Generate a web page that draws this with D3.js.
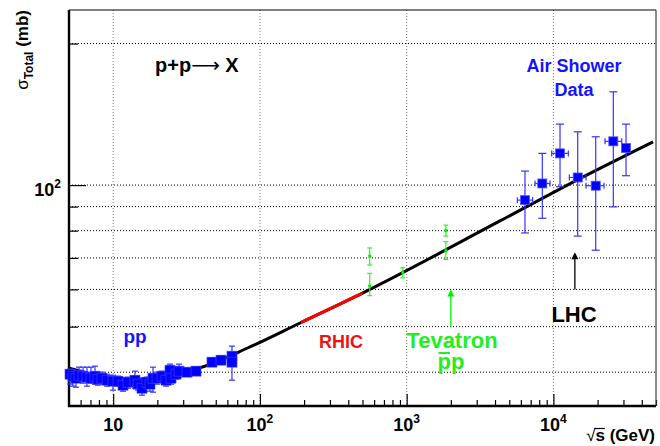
<!DOCTYPE html>
<meta charset="UTF-8">
<script src="https://cdn.jsdelivr.net/npm/d3@7/dist/d3.min.js"></script>

<svg id="chart" width="660" height="446"></svg>

<style>
 body { margin:0; background:#fff; }
 #chart { font-family:"Liberation Sans", Arial, sans-serif; font-weight:bold; }
 .hgrid line { stroke:#000; stroke-width:1; stroke-dasharray:1,2; }
 .vgrid line { stroke:#777; stroke-width:1; stroke-dasharray:1,2; }
 .axis .domain { display:none; }
 .axis line { stroke:#000; stroke-width:1.2; }
 .axis text { display:none; }
 #fit { fill:none; stroke:#000; stroke-width:3; }
 #rhic { fill:none; stroke:#f00; stroke-width:3; }
</style>

<script>
 // low energy pp data (sqrt(s) in GeV, sigma in mb)
 var ppEnergy = [5.08,5.32,5.58,5.85,6.23,6.63,7.06,7.52,7.88,8.39,9.08,9.97,10.79,11.67,12.62,14.08,14.77,
                 15.72,17.01,17.82,18.68,19.89,21.51,22.91,24.39,24.78,26.8,28.09,31.85,36.68,47.13,54.3,64.5,64.5];
 var ppSigma  = [39.62,39.23,38.85,39.42,39.23,39.04,38.85,39.23,38.66,38.85,38.47,38.28,38.28,37.54,38.10,38.47,37.73,
                 36.99,38.10,37.73,38.85,38.85,39.23,38.47,40.40,38.85,39.62,40.21,40.01,40.21,42.02,42.43,43.27,42.02];
 var ppHigh   = [40.6,40.4,40.21,41.0,41.0,41.0,41.0,41.2,39.81,40.01,39.62,39.42,39.23,38.85,39.04,40.21,38.85,
                 38.10,39.04,38.85,41.0,40.01,40.21,39.62,41.61,40.01,40.6,41.61,40.8,41.0,42.85,43.27,44.1,45.45];
 var ppLow    = [37.73,37.36,37.17,38.1,37.91,37.36,37.91,37.73,37.54,37.73,37.36,36.63,37.36,36.45,36.99,36.99,36.63,
                 35.75,36.99,36.45,36.28,37.73,38.1,37.36,39.23,37.73,38.66,39.04,39.23,39.42,41.2,41.61,42.4,38.47];

 // p-pbar collider points (SppS, Tevatron)
 var ppbarEnergy = [560, 560, 940, 1850, 1850];
 var ppbarSigma  = [70.6, 61.0, 65.1, 80.0, 72.5];
 var ppbarHigh   = [73.5, 64.9, 66.7, 82.2, 75.8];
 var ppbarLow    = [67.6, 58.2, 63.5, 77.9, 69.5];

 // air shower data
 var airEnergy     = [6400, 8400, 11090, 14640, 19420, 25590, 31230];
 var airEnergyLow  = [5675, 7490, 9730, 12830, 16680, 22470, 31230];
 var airEnergyHigh = [7210, 9478, 12630, 16680, 22120, 29200, 31230];
 var airSigma      = [92.9, 100.8, 116.8, 103.8, 99.7, 123.9, 119.9];
 var airHigh       = [107.1, 116.8, 134.8, 129.8, 126.7, 157.9, 134.8];
 var airLow        = [79.1, 85.0, 99.2, 77.9, 72.7, 89.9, 104.7];

 // fit curve
 var fitEnergy = [5, 5.67, 8.13, 12.6, 20.85, 39.06, 81.7, 187.6, 504, 4325, 14030, 47760];
 var fitSigma  = [40.8, 40.4, 39.2, 38.5, 39.2, 40.9, 44.98, 50.9, 59.0, 83.9, 102, 123.6];
 var rhicRange = [190, 500];

 // arrows: Tevatron, LHC
 var arrowEnergy = [2000, 14000];
 var arrowFrom   = [50, 60];
 var arrowTo     = [60, 72];

 // axes
 var xMajor = [10, 100, 1000, 10000];
 var xLabels = [["10",""], ["10","2"], ["10","3"], ["10","4"]];
 var yMajor = [100];
 var yMinor = [40, 50, 60, 70, 80, 90, 200];

 var mLeft = 69, mRight = 656, mTop = 10, mBottom = 406;
 var x = d3.scaleLog().domain([5, 50000]).range([mLeft, mRight]);
 var y = d3.scaleLog().domain([33.9, 235.7]).range([mBottom, mTop]);

 var svg = d3.select("#chart");

 // grid
 svg.append("g").attr("class","hgrid").selectAll("line")
    .data(yMinor.concat(yMajor)).enter().append("line")
    .attr("x1",mLeft).attr("x2",mRight)
    .attr("y1",function(d){return y(d);}).attr("y2",function(d){return y(d);});
 svg.append("g").attr("class","vgrid").selectAll("line")
    .data(xMajor).enter().append("line")
    .attr("y1",mTop).attr("y2",mBottom)
    .attr("x1",function(d){return x(d);}).attr("x2",function(d){return x(d);});

 // axes ticks
 var xMinor = x.ticks().filter(function(d){ return xMajor.indexOf(d) < 0 && d > 5; });
 svg.append("g").attr("class","axis").attr("transform","translate(0,"+mBottom+")")
    .call(d3.axisTop(x).tickValues(xMinor).tickSize(6).tickSizeOuter(0));
 svg.append("g").attr("class","axis").attr("transform","translate(0,"+mBottom+")")
    .call(d3.axisTop(x).tickValues(xMajor).tickSize(12).tickSizeOuter(0));
 svg.append("g").attr("class","axis").attr("transform","translate("+mLeft+",0)")
    .call(d3.axisRight(y).tickValues(yMinor).tickSize(9).tickSizeOuter(0));
 svg.append("g").attr("class","axis").attr("transform","translate("+mLeft+",0)")
    .call(d3.axisRight(y).tickValues(yMajor).tickSize(17).tickSizeOuter(0));

 // frame
 svg.append("line").attr("x1",mLeft).attr("x2",mRight).attr("y1",mTop).attr("y2",mTop)
    .attr("stroke","#000").attr("stroke-width",1);
 svg.append("line").attr("x1",mRight).attr("x2",mRight).attr("y1",mTop).attr("y2",mBottom)
    .attr("stroke","#4a3a3a").attr("stroke-width",1.2);
 svg.append("line").attr("x1",mLeft).attr("x2",mLeft).attr("y1",mTop).attr("y2",mBottom+1)
    .attr("stroke","#000").attr("stroke-width",2.4);
 svg.append("line").attr("x1",mLeft-1).attr("x2",mRight).attr("y1",mBottom).attr("y2",mBottom)
    .attr("stroke","#000").attr("stroke-width",2.4);

 // draws a bar over the first character of a text element
 function overbar(textSel, color, gap) {
     var b = textSel.node().getExtentOfChar(0);
     svg.append("line").attr("x1",b.x+1).attr("x2",b.x+b.width-1)
        .attr("y1",b.y+gap).attr("y2",b.y+gap)
        .attr("stroke",color).attr("stroke-width",2);
 }

 // x labels
 var xl = svg.append("g").selectAll("text").data(xMajor).enter().append("text")
    .attr("x",function(d){return x(d);}).attr("y",430.5)
    .attr("text-anchor","middle").style("font-size","18px");
 xl.append("tspan").text(function(d,i){return xLabels[i][0];});
 xl.append("tspan").attr("dy",-8).style("font-size","12px").text(function(d,i){return xLabels[i][1];});

 // y label
 var yl = svg.append("text").attr("x",61).attr("y",y(100)+11)
    .attr("text-anchor","end").style("font-size","18px");
 yl.append("tspan").text("10");
 yl.append("tspan").attr("dy",-8).style("font-size","12px").text("2");

 // axis titles
 var xt = svg.append("text").attr("x",655).attr("y",441)
    .attr("text-anchor","end").style("font-size","17px");
 xt.append("tspan").style("font-weight","normal").text("√");
 xt.append("tspan").text("s (GeV)");
 var sb = xt.node().getExtentOfChar(1);
 svg.append("line").attr("x1",sb.x-1).attr("x2",sb.x+sb.width)
    .attr("y1",sb.y+2.5).attr("y2",sb.y+2.5).attr("stroke","#000").attr("stroke-width",1.2);

 var yt = svg.append("text").attr("transform","translate(28,10) rotate(-90)")
    .attr("text-anchor","end").style("font-size","17px");
 yt.append("tspan").style("font-weight","normal").text("σ");
 yt.append("tspan").attr("dy",5).style("font-size","12px").text("Total");
 yt.append("tspan").attr("dy",-5).text(" (mb)");

 // fit curve + RHIC part
 var line = d3.line().curve(d3.curveMonotoneX)
    .x(function(d,i){return x(fitEnergy[i]);})
    .y(function(d,i){return y(fitSigma[i]);});
 svg.append("clipPath").attr("id","rhicclip").append("rect")
    .attr("x",x(rhicRange[0])).attr("width",x(rhicRange[1])-x(rhicRange[0]))
    .attr("y",mTop).attr("height",mBottom-mTop);
 svg.append("path").attr("id","fit").attr("d",line(fitEnergy));
 svg.append("path").attr("id","rhic").attr("clip-path","url(#rhicclip)").attr("d",line(fitEnergy));

 // error bar helper
 function errorBars(g, xs, ys, lo, hi, cap, color) {
     g.selectAll(null).data(xs).enter().append("line")
      .attr("x1",function(d){return x(d);}).attr("x2",function(d){return x(d);})
      .attr("y1",function(d,i){return y(lo[i]);}).attr("y2",function(d,i){return y(hi[i]);})
      .attr("stroke",color).attr("stroke-width",1.2);
     [lo, hi].forEach(function(arr){
         g.selectAll(null).data(xs).enter().append("line")
          .attr("x1",function(d){return x(d)-cap/2;}).attr("x2",function(d){return x(d)+cap/2;})
          .attr("y1",function(d,i){return y(arr[i]);}).attr("y2",function(d,i){return y(arr[i]);})
          .attr("stroke",color).attr("stroke-width",1.2);
     });
 }

 // pp points
 var gpp = svg.append("g");
 errorBars(gpp, ppEnergy, ppSigma, ppLow, ppHigh, 6, "#3333ff");
 gpp.selectAll("rect").data(ppEnergy).enter().append("rect")
    .attr("x",function(d){return x(d)-5;}).attr("y",function(d,i){return y(ppSigma[i])-5;})
    .attr("width",10).attr("height",10).attr("fill","#0000ff").attr("stroke","#4444ff").attr("stroke-width",0.6);

 // ppbar points
 var gpb = svg.append("g");
 errorBars(gpb, ppbarEnergy, ppbarSigma, ppbarLow, ppbarHigh, 5, "#33ee33");
 gpb.selectAll("rect").data(ppbarEnergy).enter().append("rect")
    .attr("x",function(d){return x(d)-1.5;}).attr("y",function(d,i){return y(ppbarSigma[i])-1.5;})
    .attr("width",3).attr("height",3).attr("fill","#00ee00");

 // air shower points
 var gas = svg.append("g");
 errorBars(gas, airEnergy, airSigma, airLow, airHigh, 8, "#3333ff");
 gas.selectAll("line.h").data(airEnergy).enter().append("line").attr("class","h")
    .attr("x1",function(d,i){return x(airEnergyLow[i]);}).attr("x2",function(d,i){return x(airEnergyHigh[i]);})
    .attr("y1",function(d,i){return y(airSigma[i]);}).attr("y2",function(d,i){return y(airSigma[i]);})
    .attr("stroke","#3333ff").attr("stroke-width",1.2);
 [airEnergyLow, airEnergyHigh].forEach(function(arr){
     gas.selectAll(null).data(airEnergy).enter().append("line")
        .attr("x1",function(d,i){return x(arr[i]);}).attr("x2",function(d,i){return x(arr[i]);})
        .attr("y1",function(d,i){return y(airSigma[i])-3;}).attr("y2",function(d,i){return y(airSigma[i])+3;})
        .attr("stroke",function(d,i){return arr[i]==d?"none":"#3333ff";}).attr("stroke-width",1.2);
 });
 gas.selectAll("rect").data(airEnergy).enter().append("rect")
    .attr("x",function(d){return x(d)-4.5;}).attr("y",function(d,i){return y(airSigma[i])-4.5;})
    .attr("width",9).attr("height",9).attr("fill","#0000ff").attr("stroke","#5555ff").attr("stroke-width",0.8);

 // arrows
 var arrowColor = ["#00ee00", "#000"];
 arrowEnergy.forEach(function(e,i){
     var ax = x(e), y0 = y(arrowFrom[i]), y1 = y(arrowTo[i]);
     svg.append("line").attr("x1",ax).attr("x2",ax).attr("y1",y0).attr("y2",y1+5)
        .attr("stroke",arrowColor[i]).attr("stroke-width",1.3);
     svg.append("path").attr("d","M"+ax+","+y1+" l-3.5,7 l7,0 z").attr("fill",arrowColor[i]);
 });

 // annotations
 var p = svg.append("text").attr("x",155).attr("y",72).style("font-size","20px");
 p.append("tspan").text("p+p");
 p.append("tspan").style("font-weight","normal").style("font-family","'DejaVu Sans'").text("⟶");
 p.append("tspan").text(" X");

 svg.append("text").attr("x",574).attr("y",72).attr("text-anchor","middle")
    .style("font-size","18px").attr("fill","#1414ff").text("Air Shower");
 svg.append("text").attr("x",574).attr("y",96).attr("text-anchor","middle")
    .style("font-size","18px").attr("fill","#1414ff").text("Data");
 svg.append("text").attr("x",135).attr("y",343).attr("text-anchor","middle")
    .style("font-size","19px").attr("fill","#1414ff").text("pp");
 svg.append("text").attr("x",341).attr("y",348).attr("text-anchor","middle")
    .style("font-size","18px").attr("fill","#ee1111").text("RHIC");
 svg.append("text").attr("x",452).attr("y",348).attr("text-anchor","middle")
    .style("font-size","22px").attr("fill","#22ee22").text("Tevatron");
 var pb = svg.append("text").attr("x",451).attr("y",369).attr("text-anchor","middle")
    .style("font-size","22px").attr("fill","#22ee22").text("pp");
 overbar(pb, "#22ee22", 4);
 svg.append("text").attr("x",574).attr("y",322).attr("text-anchor","middle")
    .style("font-size","22px").attr("fill","#000").text("LHC");
</script>
